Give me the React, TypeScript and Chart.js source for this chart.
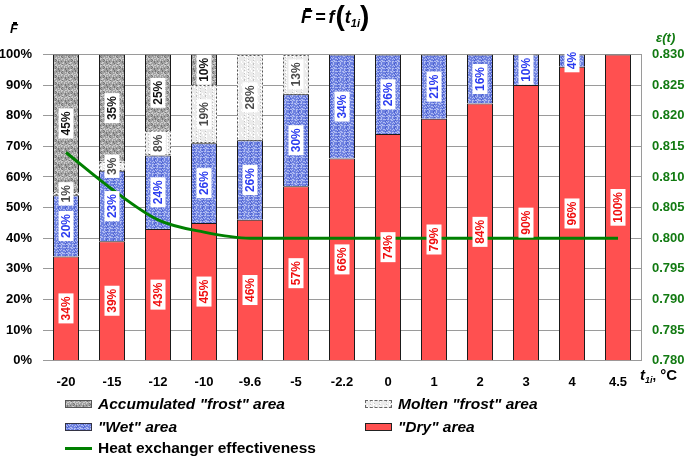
import React, { useEffect, useRef, useMemo } from 'react';
import { Chart, registerables } from 'chart.js';
Chart.register(...registerables);

const FONT = '"Liberation Sans", Arial, sans-serif';

const categories = ['-20', '-15', '-12', '-10', '-9.6', '-5', '-2.2', '0', '1', '2', '3', '4', '4.5'];
const dryArea = [34, 39, 43, 45, 46, 57, 66, 74, 79, 84, 90, 96, 100];
const wetArea = [20, 23, 24, 26, 26, 30, 34, 26, 21, 16, 10, 4, 0];
const moltenFrost = [1, 3, 8, 19, 28, 13, 0, 0, 0, 0, 0, 0, 0];
const accumulatedFrost = [45, 35, 25, 10, 0, 0, 0, 0, 0, 0, 0, 0, 0];
const effectiveness = [0.814, 0.808, 0.803, 0.801, 0.8, 0.8, 0.8, 0.8, 0.8, 0.8, 0.8, 0.8, 0.8];

const GREEN = '#008000';
const AXIS_GREEN = '#127a12';

function makeTile(base: string, light: string, dark: string, k: number) {
  const n = 16;
  const c = document.createElement('canvas');
  c.width = n;
  c.height = n;
  const g = c.getContext('2d')!;
  g.fillStyle = base;
  g.fillRect(0, 0, n, n);
  for (let i = 0; i < n; i++) {
    for (let j = 0; j < n; j++) {
      const h = (i * i * 3 + j * j * 5 + i * j * 7 + i * 11 + j * 2 + k) % 9;
      if (h === 0 || h === 4) { g.fillStyle = light; g.fillRect(i, j, 1, 1); }
      else if (h === 7) { g.fillStyle = dark; g.fillRect(i, j, 1, 1); }
    }
  }
  return c;
}

const barLabels = {
  id: 'barLabels',
  afterDatasetsDraw(chart: any) {
    const ctx = chart.ctx as CanvasRenderingContext2D;
    chart.data.datasets.forEach((ds: any, i: number) => {
      if (!ds.dashed) return;
      const meta = chart.getDatasetMeta(i);
      meta.data.forEach((el: any, j: number) => {
        if (!ds.data[j]) return;
        const p = el.getProps(['x', 'y', 'base', 'width'], true);
        ctx.save();
        ctx.setLineDash([2, 2]);
        ctx.strokeStyle = '#555';
        ctx.lineWidth = 1;
        const top = Math.min(p.y, p.base);
        const h = Math.abs(p.base - p.y);
        ctx.strokeRect(Math.round(p.x - p.width / 2) + 0.5, Math.round(top) + 0.5, Math.round(p.width) - 1, Math.round(h) - 1);
        ctx.restore();
      });
    });
    chart.data.datasets.forEach((ds: any, i: number) => {
      if (!ds.labelColor) return;
      const meta = chart.getDatasetMeta(i);
      meta.data.forEach((el: any, j: number) => {
        const v = ds.data[j];
        if (!v) return;
        const p = el.getProps(['x', 'y', 'base'], true);
        const yc = (p.y + p.base) / 2;
        const text = v + '%';
        ctx.save();
        ctx.translate(p.x, yc);
        ctx.rotate(-Math.PI / 2);
        ctx.font = 'bold 12px ' + FONT;
        const w = ctx.measureText(text).width;
        ctx.fillStyle = '#fff';
        ctx.fillRect(-w / 2 - 3, -7.5, w + 6, 15);
        ctx.fillStyle = ds.labelColor;
        ctx.textAlign = 'center';
        ctx.textBaseline = 'middle';
        ctx.fillText(text, 0, 1);
        ctx.restore();
      });
    });
  },
};

export default function App() {
  const ref = useRef<HTMLCanvasElement>(null);
  const tiles = useMemo(
    () => ({
      accum: makeTile('#a2a2a2', '#cdcdcd', '#747474', 3),
      molten: makeTile('#ebebeb', '#ffffff', '#c2c2c2', 5),
      wet: makeTile('#6f82e0', '#b0bcf2', '#4a5ecf', 2),
    }),
    []
  );

  useEffect(() => {
    const ctx = ref.current!.getContext('2d')!;
    const pat = (c: HTMLCanvasElement) => ctx.createPattern(c, 'repeat') as any;
    const tickFont = { family: FONT, size: 13, weight: 'bold' as const };
    const chart = new Chart(ctx, {
      type: 'bar',
      data: {
        labels: categories,
        datasets: [
          {
            type: 'line',
            label: 'Heat exchanger effectiveness',
            data: effectiveness,
            yAxisID: 'y1',
            borderColor: GREEN,
            borderWidth: 3,
            pointRadius: 0,
            cubicInterpolationMode: 'monotone',
            fill: false,
            order: 0,
          } as any,
          {
            label: '"Dry" area',
            data: dryArea,
            backgroundColor: '#ff5050',
            borderColor: '#1a1a1a',
            borderWidth: 1,
            yAxisID: 'y',
            order: 1,
            labelColor: '#f01010',
          } as any,
          {
            label: '"Wet" area',
            data: wetArea,
            backgroundColor: pat(tiles.wet),
            borderColor: '#1a1a1a',
            borderWidth: 1,
            yAxisID: 'y',
            order: 1,
            labelColor: '#2b3cf0',
          } as any,
          {
            label: 'Molten "frost" area',
            data: moltenFrost,
            backgroundColor: pat(tiles.molten),
            borderWidth: 0,
            yAxisID: 'y',
            order: 1,
            dashed: true,
            labelColor: '#4a4a4a',
          } as any,
          {
            label: 'Accumulated "frost" area',
            data: accumulatedFrost,
            backgroundColor: pat(tiles.accum),
            borderColor: '#1a1a1a',
            borderWidth: 1,
            yAxisID: 'y',
            order: 1,
            labelColor: '#111',
          } as any,
        ],
      },
      options: {
        responsive: false,
        animation: false,
        layout: { padding: { top: 54.5, bottom: 65.3, left: 0, right: 0 } },
        plugins: { legend: { display: false }, tooltip: { enabled: false } },
        datasets: { bar: { barPercentage: 0.565, categoryPercentage: 1 } },
        scales: {
          x: {
            stacked: true,
            grid: { display: false },
            border: { display: false },
            ticks: { color: '#000', font: tickFont, padding: 6, maxRotation: 0, autoSkip: false },
            afterFit: (s: any) => { s.height = 30; },
          },
          y: {
            stacked: true,
            position: 'left',
            min: 0,
            max: 100,
            ticks: { stepSize: 10, callback: (v: any) => v + '%', padding: 11, color: '#000', font: tickFont },
            grid: { color: '#9a9a9a', drawTicks: false, lineWidth: 1 },
            border: { display: false },
            afterFit: (s: any) => { s.width = 43; },
          },
          y1: {
            position: 'right',
            min: 0.78,
            max: 0.83,
            ticks: { stepSize: 0.005, callback: (v: any) => Number(v).toFixed(3), padding: 11, color: AXIS_GREEN, font: tickFont },
            grid: { drawOnChartArea: false, drawTicks: false },
            border: { display: true, color: '#9a9a9a' },
            afterFit: (s: any) => { s.width = 44; },
          },
        },
      } as any,
      plugins: [barLabels],
    });
    return () => chart.destroy();
  }, [tiles]);

  const tileUrl = (c: HTMLCanvasElement) => `url(${c.toDataURL()})`;
  const legendItems = [
    { x: 65, y: 404, text: 'Accumulated "frost" area', italic: true, sw: { backgroundImage: tileUrl(tiles.accum), border: '1px solid #555', height: 8 } },
    { x: 365, y: 404, text: 'Molten "frost" area', italic: true, sw: { backgroundImage: tileUrl(tiles.molten), border: '1px dashed #666', height: 8 } },
    { x: 65, y: 427, text: '"Wet" area', italic: true, sw: { backgroundImage: tileUrl(tiles.wet), border: '1px solid #334', height: 8 } },
    { x: 365, y: 427, text: '"Dry" area', italic: true, sw: { background: '#ff5050', border: '1px solid #222', height: 8 } },
    { x: 65, y: 448, text: 'Heat exchanger effectiveness', italic: false, sw: { background: GREEN, height: 3 } },
  ];

  const overF = (size: number) => (
    <span style={{ position: 'relative', display: 'inline-block', lineHeight: 1 }}>
      F
      <span style={{ position: 'absolute', left: '32%', width: '62%', top: 0, height: Math.max(1.5, size / 9), background: '#000' }} />
    </span>
  );

  return (
    <div style={{ position: 'fixed', left: 0, top: 0, width: 685, height: 456, background: '#fff', fontFamily: FONT, color: '#000' }}>
      <canvas ref={ref} width={685} height={456} style={{ position: 'absolute', left: 0, top: 0 }} />
      <div style={{ position: 'absolute', left: 301, top: 1, fontWeight: 'bold', fontStyle: 'italic', fontSize: 18, lineHeight: '30px', whiteSpace: 'nowrap' }}>
        {overF(18)}
        <span style={{ margin: '0 3px' }}>=</span>f
        <span style={{ fontSize: 28, fontStyle: 'normal', verticalAlign: '-2px', marginLeft: 1 }}>(</span>
        t<span style={{ fontSize: 11, verticalAlign: '-4px' }}>1i</span>
        <span style={{ fontSize: 28, fontStyle: 'normal', verticalAlign: '-2px' }}>)</span>
      </div>
      <div style={{ position: 'absolute', left: 10, top: 22, fontWeight: 'bold', fontStyle: 'italic', fontSize: 13, lineHeight: 1 }}>{overF(13)}</div>
      <div style={{ position: 'absolute', left: 656, top: 31, fontWeight: 'bold', fontStyle: 'italic', fontSize: 13, lineHeight: 1, color: AXIS_GREEN }}>ε(t)</div>
      <div style={{ position: 'absolute', left: 640, top: 367, fontWeight: 'bold', fontSize: 15, lineHeight: 1, whiteSpace: 'nowrap' }}>
        <i>t</i>
        <span style={{ fontSize: 9, fontStyle: 'italic', verticalAlign: '-3px' }}>1i</span>
        <span style={{ fontSize: 13 }}>,</span> °C
      </div>
      {legendItems.map((it) => (
        <div key={it.text} style={{ position: 'absolute', left: it.x, top: it.y - 10, height: 20, display: 'flex', alignItems: 'center', whiteSpace: 'nowrap' }}>
          <div style={{ width: 27, boxSizing: 'border-box', marginRight: 6, ...it.sw }} />
          <span style={{ fontWeight: 'bold', fontStyle: it.italic ? 'italic' : 'normal', fontSize: 15.5 }}>{it.text}</span>
        </div>
      ))}
    </div>
  );
}
